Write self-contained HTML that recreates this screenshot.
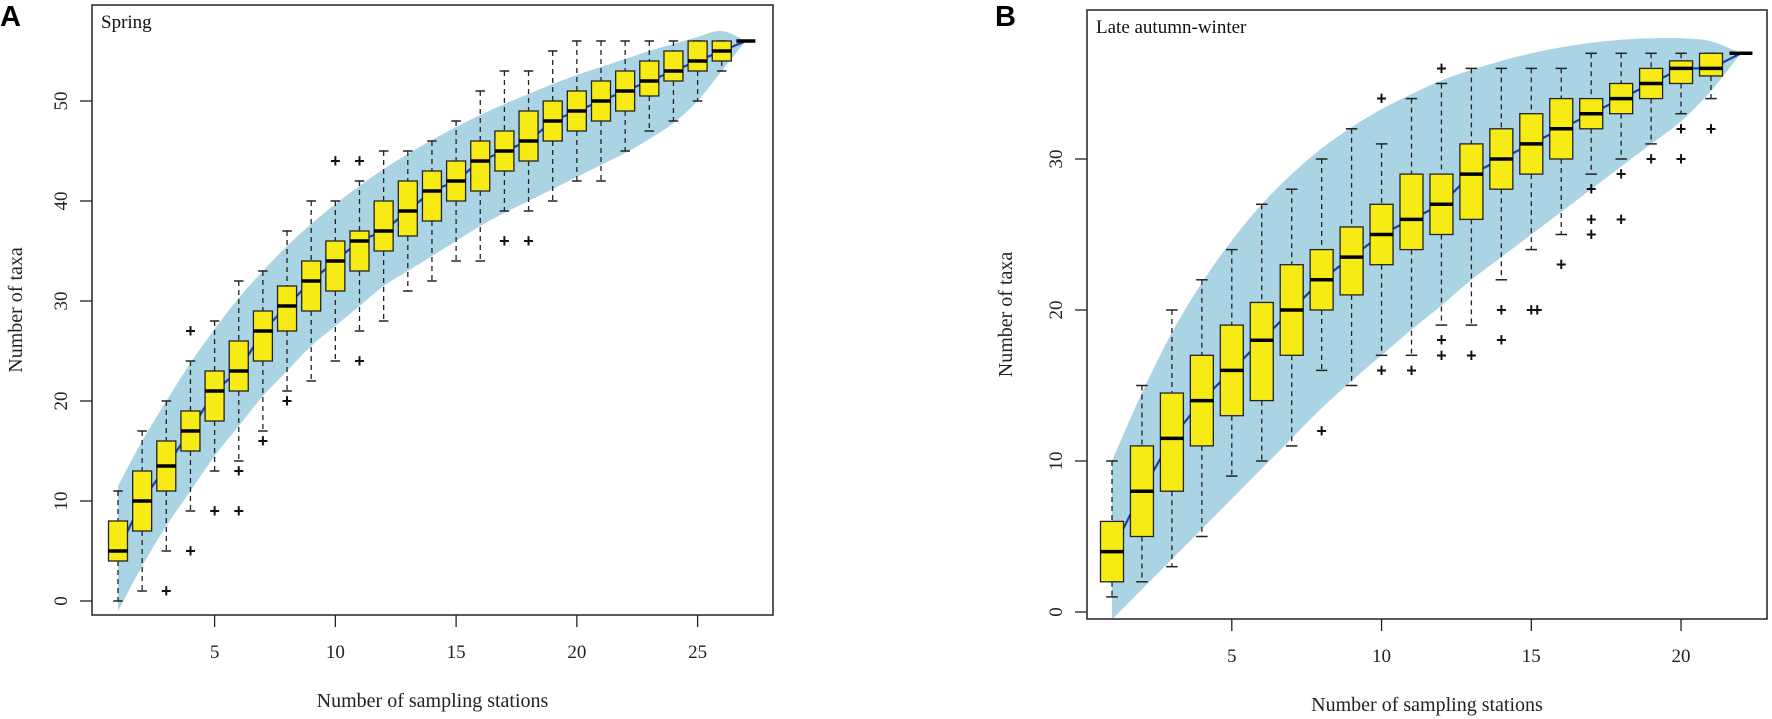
<!DOCTYPE html>
<html><head><meta charset="utf-8"><style>
html,body{margin:0;padding:0;background:#fff;}
svg{display:block;font-family:"Liberation Serif",serif;}
</style></head><body>
<svg id="chart" width="1772" height="719" viewBox="0 0 1772 719" xmlns="http://www.w3.org/2000/svg"></svg>
<script>
// ---------- Panel A (Spring) data ----------
const aStations = [1,2,3,4,5,6,7,8,9,10,11,12,13,14,15,16,17,18,19,20,21,22,23,24,25,26];
const aLow  = [0,1,5,9,13,14,17,21,22,24,27,28,31,32,34,34,39,39,40,42,42,45,47,48,50,53];
const aQ1   = [4,7,11,15,18,21,24,27,29,31,33,35,36.5,38,40,41,43,44,46,47,48,49,50.5,52,53,54];
const aMed  = [5,10,13.5,17,21,23,27,29.5,32,34,36,37,39,41,42,44,45,46,48,49,50,51,52,53,54,55];
const aQ3   = [8,13,16,19,23,26,29,31.5,34,36,37,40,42,43,44,46,47,49,50,51,52,53,54,55,56,56];
const aHigh = [11,17,20,24,28,32,33,37,40,40,42,45,45,46,48,51,53,53,55,56,56,56,56,56,56,56];
const aOut  = [[],[],[1],[27,5],[9],[13,9],[16],[20],[],[44],[44,24],[],[],[],[],[],[36],[36],[],[],[],[],[],[],[],[]];
const aFinal = 56;
const aBandX  = [1,2,3,4,5,6,7,8,9,10,11,12,13,14,15,16,17,18,19,20,21,22,23,24,25,26,27];
const aBandHi = [11.5,16,20,23.8,27.2,30.3,33,35.5,37.7,39.7,41.5,43.2,44.7,46.1,47.4,48.6,49.7,50.7,51.7,52.6,53.4,54.2,55,55.7,56.4,57,56];
const aBandLo = [-1,3.5,7.5,11,14.5,17.5,20.5,23,25.5,27.5,29.5,31.5,33,34.5,36,37.5,38.8,40,41.2,42.4,43.6,44.8,46.2,47.8,50,53,56];
const aXTicks = [5,10,15,20,25];
const aYTicks = [0,10,20,30,40,50];

// ---------- Panel B (Late autumn-winter) data ----------
const bStations = [1,2,3,4,5,6,7,8,9,10,11,12,13,14,15,16,17,18,19,20,21];
const bLow  = [1,2,3,5,9,10,11,16,15,17,17,19,19,22,24,25,29,30,31,33,34];
const bQ1   = [2,5,8,11,13,14,17,20,21,23,24,25,26,28,29,30,32,33,34,35,35.5];
const bMed  = [4,8,11.5,14,16,18,20,22,23.5,25,26,27,29,30,31,32,33,34,35,36,36];
const bQ3   = [6,11,14.5,17,19,20.5,23,24,25.5,27,29,29,31,32,33,34,34,35,36,36.5,37];
const bHigh = [10,15,20,22,24,27,28,30,32,31,34,35,36,36,36,36,37,37,37,37,37];
const bOut  = [[],[],[],[],[],[],[],[12],[],[34,16],[16],[36,18,17],[17],[20,18],[20,20],[23],[28,26,25],[29,26],[30],[32,30],[32]];
const bFinal = 37;
const bBandX  = [1,2,3,4,5,6,7,8,9,10,11,12,13,14,15,16,17,18,19,20,21,22];
const bBandHi = [10,14.5,18.5,21.8,24.6,27,29,30.7,32.1,33.3,34.3,35.2,35.9,36.5,37,37.4,37.7,37.9,38,38,37.8,37];
const bBandLo = [-0.5,1.5,3.5,5.5,7.5,9.5,11.5,13.5,15.3,17,18.7,20.3,22,23.5,25,26.5,28,29.5,31,32.5,34.5,37];
const bXTicks = [5,10,15,20];
const bYTicks = [0,10,20,30];

const NS = "http://www.w3.org/2000/svg";
const svg = document.getElementById('chart');
function mk(tag, attrs, parent){
  const e = document.createElementNS(NS, tag);
  for (const k in attrs) e.setAttribute(k, attrs[k]);
  (parent||svg).appendChild(e);
  return e;
}
function smoothPath(pts){
  let d = "M"+pts[0][0]+","+pts[0][1];
  for (let i=0;i<pts.length-1;i++){
    const p0=pts[Math.max(i-1,0)], p1=pts[i], p2=pts[i+1], p3=pts[Math.min(i+2,pts.length-1)];
    const c1x=p1[0]+(p2[0]-p0[0])/6, c1y=p1[1]+(p2[1]-p0[1])/6;
    const c2x=p2[0]-(p3[0]-p1[0])/6, c2y=p2[1]-(p3[1]-p1[1])/6;
    d += " C"+c1x+","+c1y+" "+c2x+","+c2y+" "+p2[0]+","+p2[1];
  }
  return d;
}

function panel(cfg){
  const g = mk('g', {});
  
  
  const X = s => cfg.x1 + (s-1)*cfg.dx;
  const Y = v => cfg.y0 - v*cfg.dy;
  const hi = cfg.bandX.map((s,i)=>[X(s),Y(cfg.bandHi[i])]);
  const lo = cfg.bandX.map((s,i)=>[X(s),Y(cfg.bandLo[i])]).reverse();
  let d = smoothPath(hi) + " L" + smoothPath(lo).slice(1) + " Z";
  const band = mk('path', {d:d, fill:'#aad4e4', stroke:'none'}, g);
  
  
  const bw = cfg.bw;
  cfg.st.forEach((s,i)=>{
    const bx = mk('g', {}, g);
    
    
    const cx = X(s);
    mk('line',{x1:cx,x2:cx,y1:Y(cfg.hi[i]),y2:Y(cfg.q3[i]),stroke:'#222','stroke-width':1.3,'stroke-dasharray':'5,4'},bx);
    mk('line',{x1:cx,x2:cx,y1:Y(cfg.q1[i]),y2:Y(cfg.lo[i]),stroke:'#222','stroke-width':1.3,'stroke-dasharray':'5,4'},bx);
    mk('line',{x1:cx-bw/4,x2:cx+bw/4,y1:Y(cfg.hi[i]),y2:Y(cfg.hi[i]),stroke:'#222','stroke-width':1.5},bx);
    mk('line',{x1:cx-bw/4,x2:cx+bw/4,y1:Y(cfg.lo[i]),y2:Y(cfg.lo[i]),stroke:'#222','stroke-width':1.5},bx);
    const cnt = {};
    cfg.out[i].forEach(v=>{
      cnt[v] = (cnt[v]||0)+1;
      const ox = cx + (cnt[v]-1)*6;
      const t = mk('text',{x:ox,y:Y(v)+6,'text-anchor':'middle','font-size':18,'font-family':'"Liberation Sans",sans-serif','font-weight':'bold',fill:'#111'},bx);
      t.textContent = '+';
      
      
    });
  });
  const mpts = cfg.st.map((s,i)=>X(s)+","+Y(cfg.med[i])).join(" ") + " " + X(cfg.st.length+1)+","+Y(cfg.final);
  const ml = mk('polyline',{points:mpts,fill:'none',stroke:'#1f3fa8','stroke-width':2.2},g);
  
  
  cfg.st.forEach((s,i)=>{
    const cx = X(s);
    mk('rect',{x:cx-bw/2,y:Y(cfg.q3[i]),width:bw,height:Y(cfg.q1[i])-Y(cfg.q3[i]),fill:'#f6eb14',stroke:'#222','stroke-width':1.3},g);
    mk('line',{x1:cx-bw/2,x2:cx+bw/2,y1:Y(cfg.med[i]),y2:Y(cfg.med[i]),stroke:'#000','stroke-width':3.5},g);
  });
  const fx = X(cfg.st.length+1);
  mk('line',{x1:fx-bw/2,x2:fx+bw/2,y1:Y(cfg.final),y2:Y(cfg.final),stroke:'#000','stroke-width':3.5},g);
  const fr = mk('rect',{x:cfg.L,y:cfg.T,width:cfg.R-cfg.L,height:cfg.B-cfg.T,fill:'none',stroke:'#222','stroke-width':1.5},g);
  
  
  cfg.xt.forEach(t=>{
    mk('line',{x1:X(t),x2:X(t),y1:cfg.B,y2:cfg.B+12,stroke:'#222','stroke-width':1.3},g);
    const tx = mk('text',{x:X(t),y:cfg.B+43,'text-anchor':'middle','font-size':19,fill:'#222'},g);
    tx.textContent = t;
    
    
  });
  cfg.yt.forEach(t=>{
    mk('line',{x1:cfg.L,x2:cfg.L-12,y1:Y(t),y2:Y(t),stroke:'#222','stroke-width':1.3},g);
    const ty = mk('text',{x:0,y:0,'text-anchor':'middle','font-size':19,fill:'#222',transform:'translate('+(cfg.L-25)+','+Y(t)+') rotate(-90)'},g);
    ty.textContent = t;
    
    
  });
  const xt = mk('text',{x:(cfg.L+cfg.R)/2,y:cfg.B+92,'text-anchor':'middle','font-size':20,fill:'#222'},g);
  xt.textContent = 'Number of sampling stations';
  
  
  const yt = mk('text',{x:0,y:0,'text-anchor':'middle','font-size':20,fill:'#222',transform:'translate('+cfg.ytx+','+((cfg.T+cfg.B)/2)+') rotate(-90)'},g);
  yt.textContent = 'Number of taxa';
  
  
  const st = mk('text',{x:cfg.L+9,y:cfg.T+23,'font-size':19,fill:'#111'},g);
  st.textContent = cfg.season;
  
  
  const pl = mk('text',{x:cfg.px,y:26,'font-size':29,'font-weight':'bold','font-family':'"Liberation Sans",sans-serif',fill:'#000'},g);
  pl.textContent = cfg.letter;
  
  
}

panel({name:'panel-a-spring', letter:'A', px:0, season:'Spring',
  L:92, R:773, T:5, B:615, x1:118, dx:24.15, y0:601, dy:10.0, bw:19, ytx:22,
  st:aStations, lo:aLow, q1:aQ1, med:aMed, q3:aQ3, hi:aHigh, out:aOut, final:aFinal,
  bandX:aBandX, bandHi:aBandHi, bandLo:aBandLo, xt:aXTicks, yt:aYTicks});
panel({name:'panel-b-late-autumn-winter', letter:'B', px:995, season:'Late autumn-winter',
  L:1087, R:1767, T:10, B:619, x1:1112, dx:29.95, y0:612, dy:15.1, bw:23, ytx:1012,
  st:bStations, lo:bLow, q1:bQ1, med:bMed, q3:bQ3, hi:bHigh, out:bOut, final:bFinal,
  bandX:bBandX, bandHi:bBandHi, bandLo:bBandLo, xt:bXTicks, yt:bYTicks});
</script>
</body></html>
